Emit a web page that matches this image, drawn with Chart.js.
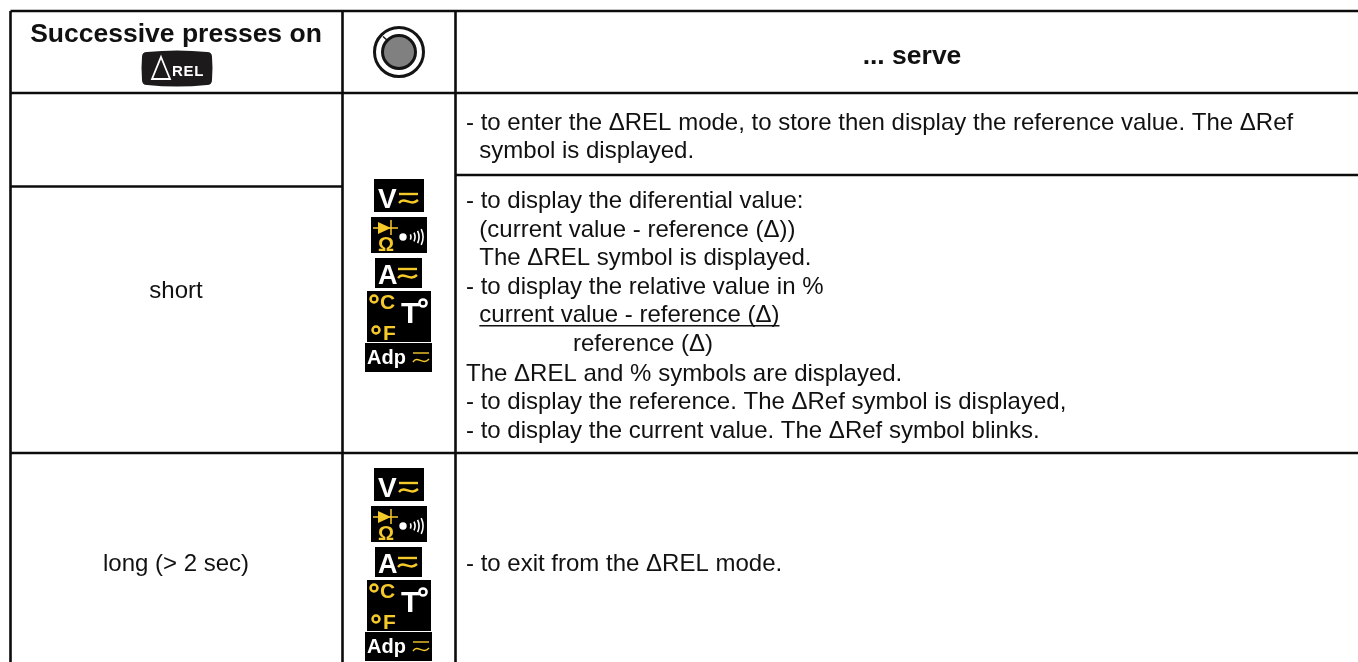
<!DOCTYPE html>
<html>
<head>
<meta charset="utf-8">
<title>Successive presses on REL</title>
<script src="https://cdn.jsdelivr.net/npm/chart.js@4/dist/chart.umd.min.js"></script>
<style>
  html, body { margin:0; padding:0; background:#fff; overflow:hidden; }
  canvas { display:block; }
</style>
</head>
<body>
<canvas id="tabela" width="1358" height="662"></canvas>
<script>
// table text
const headerLabels = ['Successive presses on', '... serve'];
const pressLabels = ['short', 'long (> 2 sec)'];
const descriptionLines = [
  '- to enter the ΔREL mode, to store then display the reference value. The ΔRef',
  '  symbol is displayed.',
  '- to display the diferential value:',
  '  (current value - reference (Δ))',
  '  The ΔREL symbol is displayed.',
  '- to display the relative value in %',
  '  current value - reference (Δ)',
  'reference (Δ)',
  'The ΔREL and % symbols are displayed.',
  '- to display the reference. The ΔRef symbol is displayed,',
  '- to display the current value. The ΔRef symbol blinks.',
  '- to exit from the ΔREL mode.'
];
// rows of the description column
const descriptionRows = [130, 158, 208, 237, 265, 294, 322, 351, 381, 409, 438, 571];
const descriptionCols = [466, 466, 466, 466, 466, 466, 466, 573, 466, 466, 466, 466];
const underlinedLine = 6;
const iconNames = ['volt', 'diode', 'amp', 'temp', 'adp'];
const iconTops = [179, 217, 258, 291, 343];
const iconGroupShift = [0, 289];

// table borders
const columnEdges = [10.5, 342.5, 455.5, 1358];
const rowEdges = [11, 93, 175, 186.5, 453, 662];

const seg = (x1, y1, x2, y2) => ({
  data: [{x:x1, y:y1}, {x:x2, y:y2}],
  showLine: true, borderColor:'#0c0c0c', borderWidth:2.6, pointRadius:0, fill:false
});
const [c0, c1, c2, c3] = columnEdges;
const [r0, r1, r2, r3, r4, r5] = rowEdges;

const yellow = '#f6c92b';
const font = 'Liberation Sans, Arial, sans-serif';

function waves(ctx, x, y, w, lw) {
  ctx.strokeStyle = yellow; ctx.lineWidth = lw; ctx.beginPath();
  ctx.moveTo(x, y); ctx.lineTo(x + w, y); ctx.stroke();
  ctx.beginPath();
  ctx.moveTo(x, y + 9);
  ctx.bezierCurveTo(x + w * .3, y + 2, x + w * .6, y + 13, x + w, y + 6);
  ctx.stroke();
}

function ring(ctx, cx, cy, r, color) {
  ctx.strokeStyle = color; ctx.lineWidth = 2.5;
  ctx.beginPath(); ctx.arc(cx, cy, r, 0, Math.PI * 2); ctx.stroke();
}

const icons = {
  volt(ctx, t) {
    ctx.fillStyle = '#000'; ctx.fillRect(374, t, 50, 33);
    ctx.fillStyle = '#fff'; ctx.font = 'bold 28px ' + font; ctx.textAlign = 'left';
    ctx.fillText('V', 378, t + 29);
    waves(ctx, 399, t + 15, 19, 2.4);
  },
  diode(ctx, t) {
    ctx.fillStyle = '#000'; ctx.fillRect(371, t, 56, 36);
    ctx.fillStyle = yellow; ctx.strokeStyle = yellow; ctx.lineWidth = 1.5;
    ctx.beginPath(); ctx.moveTo(378, t + 5); ctx.lineTo(391, t + 11); ctx.lineTo(378, t + 17); ctx.fill();
    ctx.beginPath(); ctx.moveTo(373, t + 11); ctx.lineTo(398, t + 11);
    ctx.moveTo(391, t + 3); ctx.lineTo(391, t + 18); ctx.stroke();
    ctx.font = 'bold 20px ' + font; ctx.textAlign = 'left';
    ctx.fillText('Ω', 378, t + 34);
    ctx.fillStyle = '#fff';
    ctx.beginPath(); ctx.arc(403, t + 20, 3.7, 0, Math.PI * 2); ctx.fill();
    ctx.strokeStyle = '#fff'; ctx.lineWidth = 1.6;
    [6, 10, 14, 18].forEach(r => {
      ctx.beginPath(); ctx.arc(405, t + 20, r, -0.45, 0.45); ctx.stroke();
    });
  },
  amp(ctx, t) {
    ctx.fillStyle = '#000'; ctx.fillRect(375, t, 47, 30);
    ctx.fillStyle = '#fff'; ctx.font = 'bold 27px ' + font; ctx.textAlign = 'left';
    ctx.fillText('A', 378, t + 26);
    waves(ctx, 398, t + 11, 19, 2.4);
  },
  temp(ctx, t) {
    ctx.fillStyle = '#000'; ctx.fillRect(367, t, 64, 51);
    ring(ctx, 374, t + 8, 3.5, yellow);
    ring(ctx, 376, t + 39, 3.5, yellow);
    ctx.fillStyle = yellow; ctx.font = 'bold 21px ' + font; ctx.textAlign = 'left';
    ctx.fillText('C', 380, t + 18);
    ctx.fillText('F', 383, t + 49);
    ctx.fillStyle = '#fff'; ctx.font = 'bold 30px ' + font;
    ctx.fillText('T', 401, t + 32);
    ring(ctx, 423, t + 12, 3.6, '#fff');
  },
  adp(ctx, t) {
    ctx.fillStyle = '#000'; ctx.fillRect(365, t, 67, 29);
    ctx.fillStyle = '#fff'; ctx.font = 'bold 20px ' + font; ctx.textAlign = 'left';
    ctx.fillText('Adp', 367, t + 21);
    waves(ctx, 413, t + 10, 16, 1.4);
  }
};

const tablePlugin = {
  id:'tabela',
  afterDatasetsDraw(chart) {
    const { ctx, scales:{ x, y } } = chart;
    ctx.save();
    ctx.textBaseline = 'alphabetic';

    // header
    ctx.fillStyle = '#111';
    ctx.textAlign = 'center';
    ctx.font = 'bold 26.5px ' + font;
    ctx.fillText(headerLabels[0], x.getPixelForValue(176), y.getPixelForValue(42));
    ctx.fillText(headerLabels[1], x.getPixelForValue(912), y.getPixelForValue(64));

    // REL button
    ctx.fillStyle = '#1c1a1a';
    ctx.beginPath();
    ctx.moveTo(147, 52);
    ctx.quadraticCurveTo(177, 49, 207, 52);
    ctx.quadraticCurveTo(212, 52, 212, 57);
    ctx.quadraticCurveTo(213, 68, 212, 80);
    ctx.quadraticCurveTo(212, 85, 207, 85);
    ctx.quadraticCurveTo(177, 88, 147, 85);
    ctx.quadraticCurveTo(142, 85, 142, 80);
    ctx.quadraticCurveTo(141, 68, 142, 57);
    ctx.quadraticCurveTo(142, 52, 147, 52);
    ctx.fill();
    ctx.strokeStyle = '#fff'; ctx.lineWidth = 1.8;
    ctx.beginPath(); ctx.moveTo(161, 57); ctx.lineTo(170, 79); ctx.lineTo(152, 79); ctx.closePath(); ctx.stroke();
    ctx.fillStyle = '#fff'; ctx.font = 'bold 15px ' + font; ctx.textAlign = 'left';
    ctx.letterSpacing = '0.7px';
    ctx.fillText('REL', 172, 75.5);
    ctx.letterSpacing = '0px';

    // knob
    ctx.strokeStyle = '#141414'; ctx.lineWidth = 3;
    ctx.beginPath(); ctx.arc(399, 52, 24.5, 0, Math.PI * 2); ctx.stroke();
    ctx.fillStyle = '#808080';
    ctx.beginPath(); ctx.arc(399, 52, 16.5, 0, Math.PI * 2); ctx.fill(); ctx.stroke();
    ctx.lineWidth = 1.4;
    ctx.beginPath(); ctx.moveTo(383, 36.5); ctx.lineTo(388, 41); ctx.stroke();

    // press labels
    ctx.fillStyle = '#111';
    ctx.textAlign = 'center';
    ctx.font = '24px ' + font;
    ctx.fillText(pressLabels[0], x.getPixelForValue(176), y.getPixelForValue(298));
    ctx.fillText(pressLabels[1], x.getPixelForValue(176), y.getPixelForValue(571));

    // description column
    ctx.textAlign = 'left';
    descriptionLines.forEach((line, i) => {
      const px = x.getPixelForValue(descriptionCols[i]);
      const py = y.getPixelForValue(descriptionRows[i]);
      ctx.fillText(line, px, py);
      if (i === underlinedLine) {
        const lead = ctx.measureText('  ').width;
        const w = ctx.measureText(line).width;
        ctx.fillRect(px + lead, py + 3, w - lead, 1.5);
      }
    });

    // mode icons, same group twice
    iconGroupShift.forEach(shift => {
      iconNames.forEach((name, i) => icons[name](ctx, iconTops[i] + shift));
    });
    ctx.restore();
  }
};

new Chart(document.getElementById('tabela'), {
  type:'scatter',
  data:{
    datasets:[
      seg(c0, r0, c3, r0),
      seg(c0, r1, c3, r1),
      seg(c0, r3, c1, r3),
      seg(c2, r2, c3, r2),
      seg(c0, r4, c3, r4),
      seg(c0, r0, c0, r5),
      seg(c1, r0, c1, r5),
      seg(c2, r0, c2, r5)
    ]
  },
  options:{
    responsive:false,
    animation:false,
    layout:{ padding:0 },
    plugins:{ legend:{ display:false }, tooltip:{ enabled:false }, title:{ display:false } },
    scales:{
      x:{ type:'linear', display:false, min:0, max:1358 },
      y:{ type:'linear', display:false, min:0, max:662, reverse:true }
    }
  },
  plugins:[tablePlugin]
});
</script>
</body>
</html>
